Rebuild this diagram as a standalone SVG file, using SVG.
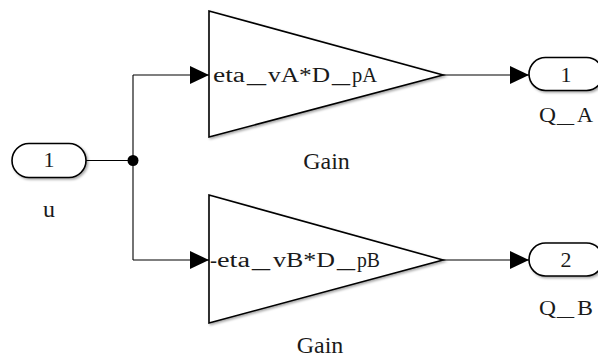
<svg xmlns="http://www.w3.org/2000/svg" width="598" height="360" viewBox="0 0 598 360">
<style>
text{font-family:"Liberation Serif","DejaVu Serif",serif;fill:#1a1a1a}
.blk{fill:#fff;stroke:#000;stroke-width:1.6;filter:url(#sh)}
.ln{fill:none;stroke:#000;stroke-width:1.1}
.num{font-size:22px;text-anchor:middle}
.lbl{font-size:24px;text-anchor:middle}
.ql{font-size:22px}
.gl{font-size:20px}
</style>
<defs>
<filter id="sh" x="-10%" y="-10%" width="130%" height="130%">
<feDropShadow dx="1.5" dy="1.5" stdDeviation="1" flood-color="#000" flood-opacity="0.35"/>
</filter>
<marker id="ah" viewBox="0 0 19 18" refX="19" refY="9" markerWidth="19" markerHeight="18" markerUnits="userSpaceOnUse" orient="auto">
<path d="M0,0 L19,9 L0,18 Z" fill="#000"/>
</marker>
</defs>
<g id="connectors">
<path class="ln" d="M86,160.5 H133"/>
<path class="ln" d="M133,75 V260"/>
<path class="ln" d="M133,75 H209" marker-end="url(#ah)"/>
<path class="ln" d="M133,260 H209" marker-end="url(#ah)"/>
<path class="ln" d="M443,75 H529" marker-end="url(#ah)"/>
<path class="ln" d="M443,260 H529" marker-end="url(#ah)"/>
<circle cx="133" cy="160.5" r="5.5" fill="#000"/>
</g>
<g id="inport-u">
<rect class="blk" x="12" y="143.5" width="74" height="34" rx="17"/>
<text class="num" x="49" y="167">1</text>
<text class="lbl" x="49" y="216.5">u</text>
</g>
<g id="gain-A">
<polygon class="blk" points="209,11 443,75 209,137"/>
<text class="gl" x="213" y="82"><tspan x="213" textLength="32" lengthAdjust="spacingAndGlyphs">eta</tspan><tspan x="247" textLength="19" lengthAdjust="spacingAndGlyphs">_</tspan><tspan x="268" textLength="62" lengthAdjust="spacingAndGlyphs">vA*D</tspan><tspan x="332" textLength="18" lengthAdjust="spacingAndGlyphs">_</tspan><tspan x="352" textLength="25" lengthAdjust="spacingAndGlyphs">pA</tspan></text>
<text class="lbl" x="326.5" y="168.5">Gain</text>
</g>
<g id="gain-B">
<polygon class="blk" points="209,195 443,260 209,323"/>
<text class="gl" x="210" y="267"><tspan x="210" textLength="7" lengthAdjust="spacingAndGlyphs">-</tspan><tspan x="217" textLength="33" lengthAdjust="spacingAndGlyphs">eta</tspan><tspan x="252" textLength="18" lengthAdjust="spacingAndGlyphs">_</tspan><tspan x="273" textLength="62" lengthAdjust="spacingAndGlyphs">vB*D</tspan><tspan x="337" textLength="18" lengthAdjust="spacingAndGlyphs">_</tspan><tspan x="357" textLength="23" lengthAdjust="spacingAndGlyphs">pB</tspan></text>
<text class="lbl" x="320" y="352.5">Gain</text>
</g>
<g id="outport-QA">
<rect class="blk" x="529" y="57.5" width="74" height="33" rx="16.5"/>
<text class="num" x="566" y="82">1</text>
<text class="ql" x="539" y="121.5"><tspan x="539" textLength="17" lengthAdjust="spacingAndGlyphs">Q</tspan><tspan x="557" textLength="17" lengthAdjust="spacingAndGlyphs">_</tspan><tspan x="577" textLength="16" lengthAdjust="spacingAndGlyphs">A</tspan></text>
</g>
<g id="outport-QB">
<rect class="blk" x="529" y="243" width="74" height="33" rx="16.5"/>
<text class="num" x="566" y="267">2</text>
<text class="ql" x="539" y="315"><tspan x="539" textLength="17" lengthAdjust="spacingAndGlyphs">Q</tspan><tspan x="557" textLength="17" lengthAdjust="spacingAndGlyphs">_</tspan><tspan x="577" textLength="16" lengthAdjust="spacingAndGlyphs">B</tspan></text>
</g>
</svg>
